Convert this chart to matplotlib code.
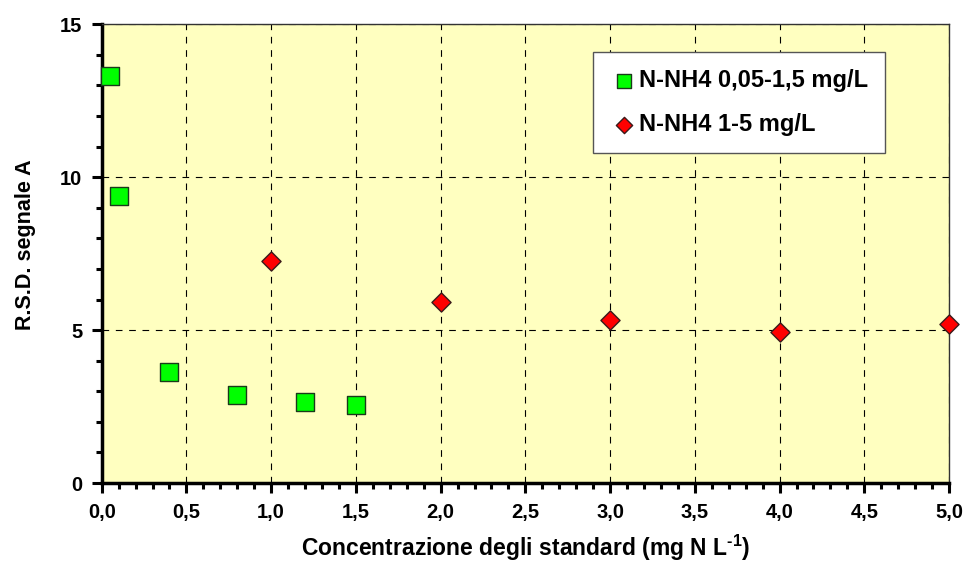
import matplotlib.pyplot as plt
from matplotlib.ticker import MultipleLocator, FuncFormatter

plt.rcParams["font.family"] = ["Liberation Sans", "DejaVu Sans"]
plt.rcParams["font.weight"] = "bold"
plt.rcParams["mathtext.fontset"] = "custom"
plt.rcParams["mathtext.rm"] = "Liberation Sans:bold"
plt.rcParams["mathtext.bf"] = "Liberation Sans:bold"

# RSD del segnale A per i due intervalli di taratura
low_conc = [0.05, 0.1, 0.4, 0.8, 1.2, 1.5]
low_rsd = [13.32, 9.38, 3.62, 2.88, 2.66, 2.56]
low_label = "N-NH4 0,05-1,5 mg/L"

high_conc = [1, 2, 3, 4, 5]
high_rsd = [7.25, 5.92, 5.33, 4.94, 5.2]
high_label = "N-NH4 1-5 mg/L"

fig = plt.figure(figsize=(9.64, 5.65), dpi=100)
ax = fig.add_axes([0.1055, 0.145, 0.879, 0.812])
ax.set_facecolor("#ffffc0")

ax.scatter(low_conc, low_rsd, marker="s", s=160, color="#00ff00",
           edgecolors="#1a3a1a", linewidths=1.0, label=low_label, zorder=3, clip_on=False)
ax.scatter(high_conc, high_rsd, marker="D", s=95, color="#ff0000",
           edgecolors="#3a1a1a", linewidths=1.0, label=high_label, zorder=3, clip_on=False)

ax.set_xlim(0, 5)
ax.set_ylim(0, 15)
ax.xaxis.set_major_locator(MultipleLocator(0.5))
ax.xaxis.set_minor_locator(MultipleLocator(0.1))
ax.yaxis.set_major_locator(MultipleLocator(5))
ax.yaxis.set_minor_locator(MultipleLocator(1))
ax.xaxis.set_major_formatter(FuncFormatter(lambda v, p: f"{v:.1f}".replace(".", ",")))
ax.yaxis.set_major_formatter(FuncFormatter(lambda v, p: f"{v:.0f}"))

ax.grid(True, which="major", color="black", linestyle=(0, (6, 6)), linewidth=0.8)
ax.set_axisbelow(True)

for side in ("left", "bottom"):
    ax.spines[side].set_linewidth(2.5)
for side in ("top", "right"):
    ax.spines[side].set_linewidth(1.0)
    ax.spines[side].set_color("#333333")

ax.tick_params(which="major", direction="out", length=7, width=2.2, labelsize=14.5, pad=7)
ax.tick_params(which="minor", direction="out", length=4, width=2.2)

ax.set_xlabel("Concentrazione degli standard (mg N L$^{\\text{-1}}$)",
              fontsize=16.5, fontweight="bold", labelpad=8)
ax.set_ylabel("R.S.D. segnale A", fontsize=15.5, fontweight="bold")
ax.yaxis.set_label_coords(-0.078, 0.52)

leg = ax.legend(loc="upper left", bbox_to_anchor=(0.58, 0.939), fontsize=17,
                frameon=True, fancybox=False, edgecolor="#555555", framealpha=1,
                handletextpad=0.05, handlelength=1.2, labelspacing=0.9,
                borderpad=0.7, borderaxespad=0, markerscale=0.85)
leg.get_frame().set_linewidth(1.0)
for t in leg.get_texts():
    t.set_fontweight("bold")

fig.savefig("out.png", dpi=100)
